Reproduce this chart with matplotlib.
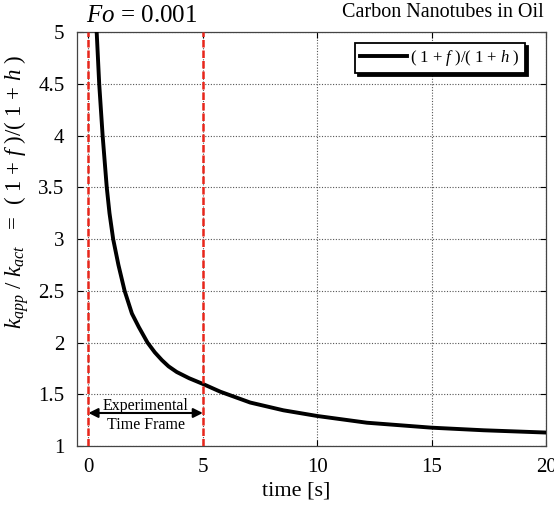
import matplotlib

matplotlib.use("Agg")
import matplotlib.pyplot as plt

plt.rcParams["font.family"] = ["Liberation Serif", "DejaVu Serif"]
plt.rcParams["mathtext.fontset"] = "custom"
plt.rcParams["mathtext.rm"] = "Liberation Serif"
plt.rcParams["mathtext.it"] = "Liberation Serif:italic"

# values
time_s = [0.36, 0.47, 0.62, 0.80, 0.92, 1.08, 1.31, 1.58, 1.90, 2.20, 2.58,
          2.90, 3.21, 3.50, 3.86, 4.40, 5.00, 5.76, 7.07, 8.52, 10.0,
          12.17, 15.0, 17.27, 20.0]
ratio = [5.00, 4.50, 4.00, 3.50, 3.25, 3.00, 2.75, 2.50, 2.28, 2.15, 2.00,
         1.905, 1.83, 1.77, 1.715, 1.655, 1.60, 1.525, 1.42, 1.345, 1.29,
         1.225, 1.177, 1.152, 1.13]
frame_edges = [0, 5]
x_ticks = [0, 5, 10, 15, 20]
y_ticks = [1, 1.5, 2, 2.5, 3, 3.5, 4, 4.5, 5]
y_ticklabels = ["1", "1.5", "2", "2.5", "3", "3.5", "4", "4.5", "5"]

fig = plt.figure(figsize=(5.54, 5.18), dpi=100)
ax = fig.add_axes([0.139, 0.139, 0.8466, 0.799])

ax.plot(time_s, ratio, color="black", lw=2.8, solid_joinstyle="round",
        label=r"( 1 + $f$ )/( 1 + $h$ )", zorder=3)
for xe in frame_edges:
    ax.axvline(xe, color="#e8261b", lw=1.8, ls=(0, (3, 1.2)), zorder=4)

ax.annotate("", xy=(frame_edges[0], 1.319), xytext=(frame_edges[1], 1.319),
            arrowprops=dict(arrowstyle="<|-|>", color="black", lw=1.5,
                            mutation_scale=14, shrinkA=0, shrinkB=0))
mid = (frame_edges[0] + frame_edges[1]) / 2
ax.text(mid, 1.35, "Experimental", ha="center", va="baseline", fontsize=11.5)
ax.text(mid, 1.285, "Time Frame", ha="center", va="top", fontsize=11.5)

ax.set_xlim(-0.5, 20)
ax.set_ylim(1, 5)
ax.set_xticks(x_ticks)
ax.set_yticks(y_ticks)
ax.set_yticklabels(y_ticklabels)
ax.tick_params(direction="in", top=True, right=True, labelsize=15, pad=9, length=4)
ax.grid(True, ls=(0, (1, 1.5)), color="#555555", lw=0.8)
for s in ax.spines.values():
    s.set_color("#444444")
    s.set_linewidth(0.9)

ax.set_xlabel("time [s]", fontsize=16)
ax.xaxis.set_label_coords(0.467, -0.085)
ax.set_ylabel(r"$k_{app}$ / $k_{act}$   =  ( 1 + $f$ )/( 1 + $h$ )", fontsize=16.5)
ax.yaxis.set_label_coords(-0.098, 0.615)

ax.text(0.02, 1.012, r"$Fo$ = 0.001", transform=ax.transAxes, fontsize=18, va="bottom", ha="left")
fig.text(0.982, 0.957, "Carbon Nanotubes in Oil", fontsize=14.5, ha="right", va="bottom")

leg = ax.legend(loc="upper right", bbox_to_anchor=(0.955, 0.973), borderaxespad=0,
                fontsize=12, fancybox=False, shadow={"color": "black", "alpha": 1},
                framealpha=1, edgecolor="black", handlelength=2.8, borderpad=0.3,
                handletextpad=0.2)
leg.get_frame().set_linewidth(1.3)

fig.savefig("out.png", dpi=100, facecolor="white")
